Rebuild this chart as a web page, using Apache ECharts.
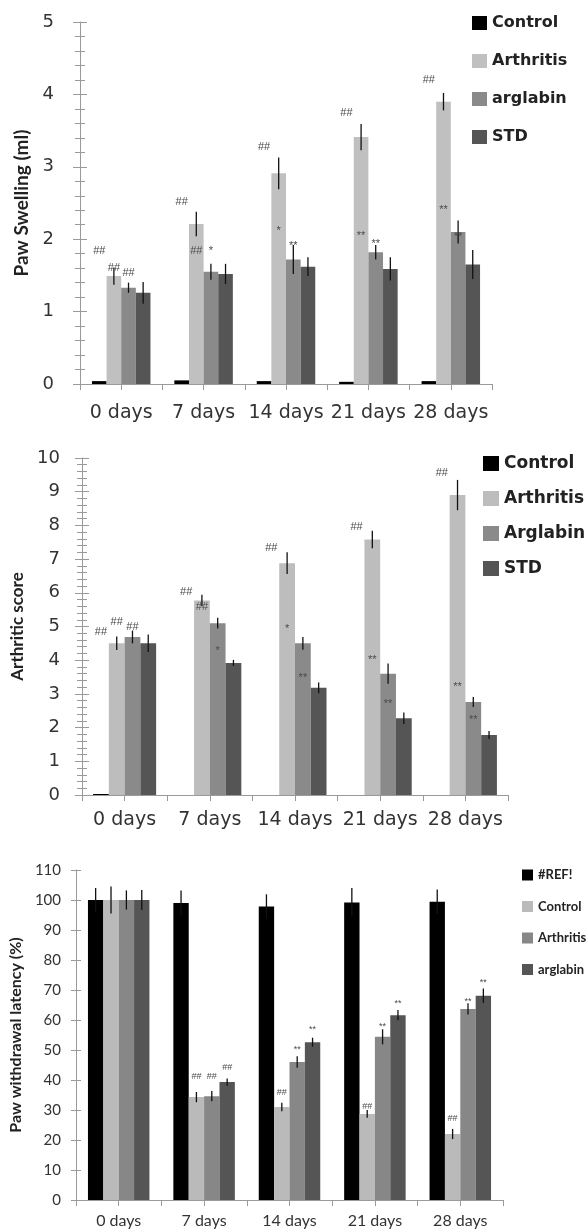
<!DOCTYPE html>
<html>
<head>
<meta charset="utf-8">
<script src="https://cdn.jsdelivr.net/npm/echarts@6/dist/echarts.min.js"></script>
<style>
  html, body { margin: 0; padding: 0; background: #fff; }
  #c1, #c2, #c3 { position: absolute; left: 0; width: 587px; }
  #c1 { top: 0; height: 430px; }
  #c2 { top: 430px; height: 400px; }
  #c3 { top: 830px; height: 400px; }
</style>
</head>
<body>
<div id="c1"></div>
<div id="c2"></div>
<div id="c3"></div>
<script>
// ---------- shared categories ----------
const days = ['0 days', '7 days', '14 days', '21 days', '28 days'];

// ---------- Chart 1: Paw swelling ----------
const swellNames = ['Control', 'Arthritis', 'arglabin', 'STD'];
const swellControl   = [0.04, 0.05, 0.04, 0.03, 0.04];
const swellArthritis = [1.49, 2.21, 2.91, 3.41, 3.90];
const swellArglabin  = [1.33, 1.55, 1.72, 1.82, 2.10];
const swellSTD       = [1.26, 1.52, 1.62, 1.59, 1.65];
const swellControlErr   = [0, 0, 0, 0, 0];
const swellArthritisErr = [0.12, 0.17, 0.22, 0.18, 0.12];
const swellArglabinErr  = [0.07, 0.11, 0.20, 0.10, 0.16];
const swellSTDErr       = [0.15, 0.14, 0.13, 0.16, 0.20];
const swellAxisTicks = [0, 1, 2, 3, 4, 5];
// significance marks: [category index, value, bar index, text]
const swellMarks = [
  [0, 1.84, 0, '##'], [0, 1.60, 1, '##'], [0, 1.53, 2, '##'],
  [1, 2.52, 0, '##'], [1, 1.84, 1, '##'], [1, 1.84, 2, '*'],
  [2, 3.28, 0, '##'], [2, 2.12, 1, '*'],  [2, 1.90, 2, '**'],
  [3, 3.75, 0, '##'], [3, 2.04, 1, '**'], [3, 1.94, 2, '**'],
  [4, 4.20, 0, '##'], [4, 2.40, 1, '**'], [4, 2.03, 2, '**']
];

// ---------- Chart 2: Arthritic score ----------
const scoreNames = ['Control', 'Arthritis', 'Arglabin', 'STD'];
const scoreControl   = [0.03, 0, 0, 0, 0];
const scoreArthritis = [4.50, 5.77, 6.88, 7.58, 8.90];
const scoreArglabin  = [4.69, 5.10, 4.50, 3.60, 2.76];
const scoreSTD       = [4.50, 3.92, 3.18, 2.28, 1.78];
const scoreControlErr   = [0, 0, 0, 0, 0];
const scoreArthritisErr = [0.20, 0.17, 0.32, 0.26, 0.45];
const scoreArglabinErr  = [0.19, 0.16, 0.19, 0.30, 0.15];
const scoreSTDErr       = [0.26, 0.09, 0.16, 0.17, 0.12];
const scoreAxisTicks = [0, 1, 2, 3, 4, 5, 6, 7, 8, 9, 10];
const scoreMarks = [
  [0, 4.84, 0, '##'], [0, 5.13, 1, '##'], [0, 4.98, 2, '##'],
  [1, 6.02, 0, '##'], [1, 5.58, 1, '##'], [1, 4.27, 2, '*'],
  [2, 7.33, 0, '##'], [2, 4.93, 1, '*'],  [2, 3.47, 2, '**'],
  [3, 7.96, 0, '##'], [3, 4.00, 1, '**'], [3, 2.70, 2, '**'],
  [4, 9.55, 0, '##'], [4, 3.20, 1, '**'], [4, 2.22, 2, '**']
];

// ---------- Chart 3: Paw withdrawal latency ----------
const latNames = ['#REF!', 'Control', 'Arthritis', 'arglabin'];
const latRef       = [100, 99.0, 97.8, 99.2, 99.4];
const latControl   = [100, 34.3, 31.0, 28.7, 22.0];
const latArthritis = [100, 34.6, 46.0, 54.4, 63.7];
const latArglabin  = [100, 39.3, 52.6, 61.6, 68.1];
const latRefErr       = [4.0, 4.2, 4.1, 4.8, 4.1];
const latControlErr   = [4.5, 1.7, 1.4, 1.3, 1.7];
const latArthritisErr = [3.2, 1.7, 1.9, 2.5, 1.9];
const latArglabinErr  = [3.3, 1.2, 1.5, 1.7, 2.4];
const latAxisTicks = [0, 10, 20, 30, 40, 50, 60, 70, 80, 90, 100, 110];
const latMarks = [
  [1, 41.0, 1, '##'], [1, 41.0, 2, '##'], [1, 44.0, 3, '##'],
  [2, 35.7, 1, '##'], [2, 50.0, 2, '**'], [2, 56.7, 3, '**'],
  [3, 31.3, 1, '##'], [3, 57.7, 2, '**'], [3, 65.6, 3, '**'],
  [4, 27.3, 1, '##'], [4, 66.0, 2, '**'], [4, 72.6, 3, '**']
];

// ---------- builder ----------
function barCenterX(api, cat, barIndex, nBars, gap) {
  const band = api.size([1, 0])[0];
  const used = band * (1 - gap);
  const bw = used / nBars;
  return api.coord([cat, 0])[0] - used / 2 + (barIndex + 0.5) * bw;
}

function buildOption(cfg) {
  const nBars = cfg.values.length;
  const series = [];
  cfg.values.forEach((vals, i) => {
    series.push({
      name: cfg.names[i], type: 'bar', data: vals,
      barGap: '0%', barCategoryGap: (cfg.gap * 100) + '%',
      itemStyle: { color: cfg.colors[i] },
      emphasis: { disabled: true }
    });
  });
  cfg.values.forEach((vals, i) => {
    const errs = cfg.errs[i];
    series.push({
      type: 'custom', silent: true, z: 5,
      encode: { x: 0, y: 1 },
      data: vals.map((v, k) => [k, v, errs[k]]),
      renderItem: function (params, api) {
        const c = api.value(0), v = api.value(1), e = api.value(2);
        if (!e) return null;
        const cx = barCenterX(api, c, i, nBars, cfg.gap);
        const p1 = api.coord([c, v - e]), p2 = api.coord([c, v + e]);
        return { type: 'line', shape: { x1: cx, y1: p1[1], x2: cx, y2: p2[1] },
                 style: { stroke: '#111', lineWidth: 1.3 } };
      }
    });
  });
  series.push({
    type: 'custom', silent: true, z: 6,
    encode: { x: 0, y: 1 },
    data: cfg.marks.map(m => [m[0], m[1], m[2]]),
    renderItem: function (params, api) {
      const c = api.value(0), v = api.value(1), b = api.value(2);
      const cx = barCenterX(api, c, b, nBars, cfg.gap);
      const y = api.coord([c, v])[1];
      return { type: 'text', x: cx, y: y,
               style: { text: cfg.marks[params.dataIndex][3], align: 'center', verticalAlign: 'middle',
                        fontFamily: 'Liberation Sans', fontSize: cfg.markSize, fill: '#4a4a4a' } };
    }
  });

  const ticks = cfg.ticks;
  const yMin = ticks[0], yMax = ticks[ticks.length - 1], yInt = ticks[1] - ticks[0];
  const axisColor = '#9a9a9a';

  return {
    animation: false,
    backgroundColor: '#fff',
    grid: cfg.grid,
    legend: Object.assign({
      orient: 'vertical', icon: 'rect', data: cfg.names, selectedMode: false
    }, cfg.legend),
    xAxis: [
      { type: 'category', data: days, position: 'bottom',
        axisLine: { lineStyle: { color: axisColor, width: 1 } },
        axisTick: { show: true, interval: 0, length: 6, lineStyle: { color: axisColor } },
        axisLabel: Object.assign({ interval: 0, color: '#333' }, cfg.xLabel),
        splitLine: { show: false } },
      { type: 'category', data: days, position: 'bottom',
        axisLine: { show: false },
        axisTick: { show: true, alignWithLabel: true, interval: 0, length: 6, lineStyle: { color: axisColor } },
        axisLabel: { show: false }, splitLine: { show: false } }
    ],
    yAxis: [
      { type: 'value', min: yMin, max: yMax, interval: yInt, position: 'left',
        name: cfg.yName, nameLocation: 'middle', nameGap: cfg.nameGap, nameRotate: 90,
        nameTextStyle: cfg.nameStyle,
        axisLine: { show: true, lineStyle: { color: axisColor, width: 1 } },
        axisTick: { show: true, length: cfg.tickLen, lineStyle: { color: axisColor } },
        minorTick: { show: cfg.minor, splitNumber: 5, length: cfg.tickLen - 2, lineStyle: { color: axisColor } },
        axisLabel: Object.assign({ color: '#333' }, cfg.yLabel),
        splitLine: { show: false }, minorSplitLine: { show: false } },
      { type: 'value', min: yMin, max: yMax, interval: yInt, position: 'left',
        axisLine: { show: false },
        axisTick: { show: true, inside: true, length: cfg.tickLen, lineStyle: { color: axisColor } },
        minorTick: { show: cfg.minor, splitNumber: 5, length: cfg.tickLen - 2, lineStyle: { color: axisColor } },
        axisLabel: { show: false },
        splitLine: { show: false }, minorSplitLine: { show: false } }
    ],
    series: series
  };
}

const chart1 = echarts.init(document.getElementById('c1'), null, { renderer: 'canvas' });
chart1.setOption(buildOption({
  names: swellNames,
  values: [swellControl, swellArthritis, swellArglabin, swellSTD],
  errs: [swellControlErr, swellArthritisErr, swellArglabinErr, swellSTDErr],
  marks: swellMarks, markSize: 11,
  colors: ['#000000', '#c0c0c0', '#8a8a8a', '#555555'],
  gap: 0.29,
  ticks: swellAxisTicks, minor: true, tickLen: 7,
  grid: { left: 80, top: 22, width: 412, height: 362 },
  legend: { left: 467, top: 10, itemWidth: 15, itemHeight: 14, itemGap: 22,
            textStyle: { fontFamily: 'DejaVu Sans', fontWeight: 'bold', fontSize: 16, lineHeight: 16, color: '#222' } },
  xLabel: { fontFamily: 'DejaVu Sans', fontSize: 19, margin: 20 },
  yLabel: { fontFamily: 'DejaVu Sans', fontSize: 18, margin: 26 },
  yName: 'Paw Swelling (ml)', nameGap: 48,
  nameStyle: { fontFamily: 'Lato', fontWeight: 'bold', fontSize: 19, color: '#222' }
}));

const chart2 = echarts.init(document.getElementById('c2'), null, { renderer: 'canvas' });
chart2.setOption(buildOption({
  names: scoreNames,
  values: [scoreControl, scoreArthritis, scoreArglabin, scoreSTD],
  errs: [scoreControlErr, scoreArthritisErr, scoreArglabinErr, scoreSTDErr],
  marks: scoreMarks, markSize: 11,
  colors: ['#000000', '#bdbdbd', '#8a8a8a', '#555555'],
  gap: 0.26,
  ticks: scoreAxisTicks, minor: true, tickLen: 7,
  grid: { left: 82, top: 28, width: 426, height: 337 },
  legend: { left: 478, top: 20, itemWidth: 16, itemHeight: 15, itemGap: 18,
            textStyle: { fontFamily: 'DejaVu Sans', fontWeight: 'bold', fontSize: 17, lineHeight: 17, color: '#222' } },
  xLabel: { fontFamily: 'DejaVu Sans', fontSize: 19, margin: 16 },
  yLabel: { fontFamily: 'DejaVu Sans', fontSize: 18, margin: 22 },
  yName: 'Arthritic score', nameGap: 51,
  nameStyle: { fontFamily: 'Lato', fontWeight: 'bold', fontSize: 17, color: '#222' }
}));

const chart3 = echarts.init(document.getElementById('c3'), null, { renderer: 'canvas' });
chart3.setOption(buildOption({
  names: latNames,
  values: [latRef, latControl, latArthritis, latArglabin],
  errs: [latRefErr, latControlErr, latArthritisErr, latArglabinErr],
  marks: latMarks, markSize: 9,
  colors: ['#000000', '#bababa', '#878787', '#555555'],
  gap: 0.28,
  ticks: latAxisTicks, minor: false, tickLen: 5,
  grid: { left: 60, top: 40, width: 443, height: 330 },
  legend: { left: 517, top: 33.5, itemWidth: 11, itemHeight: 11, itemGap: 18.5,
            textStyle: { fontFamily: 'Lato', fontWeight: 'bold', fontSize: 13, lineHeight: 13, color: '#222' } },
  xLabel: { fontFamily: 'Lato', fontSize: 16, margin: 13 },
  yLabel: { fontFamily: 'Lato', fontSize: 15, margin: 15 },
  yName: 'Paw withdrawal latency (%)', nameGap: 35,
  nameStyle: { fontFamily: 'Lato', fontWeight: 'bold', fontSize: 16, color: '#222' }
}));
</script>
</body>
</html>
